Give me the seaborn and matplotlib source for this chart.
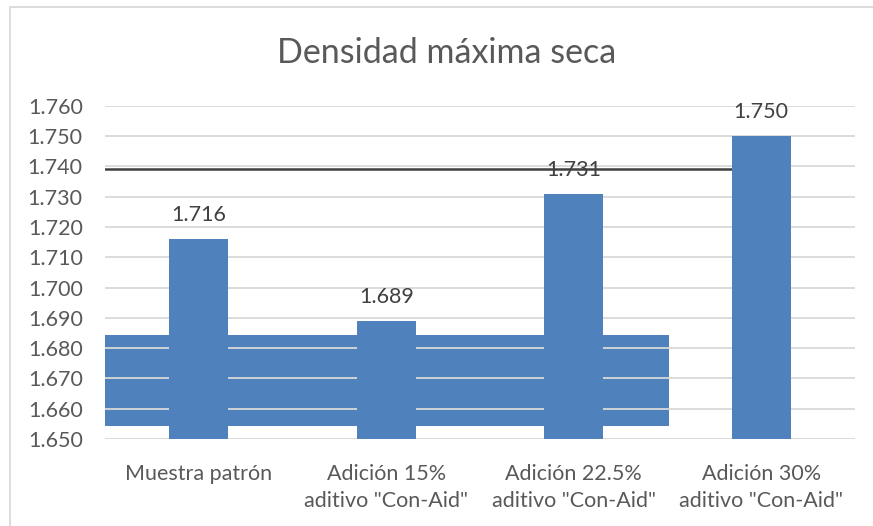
# Gráfico de barras: densidad máxima seca por tipo de mezcla

import matplotlib.pyplot as plt
import seaborn as sns
import numpy as np
from matplotlib.lines import Line2D
from matplotlib.patches import Rectangle

# Datos
categorias = ["Muestra patrón",
              "Adición 15%\naditivo \"Con-Aid\"",
              "Adición 22.5%\naditivo \"Con-Aid\"",
              "Adición 30%\naditivo \"Con-Aid\""]
valores = [1.716, 1.689, 1.731, 1.750]
etiquetas = ["1.716", "1.689", "1.731", "1.750"]
ticks_y = [1.650, 1.660, 1.670, 1.680, 1.690, 1.700, 1.710, 1.720, 1.730, 1.740, 1.750, 1.760]

# franja azul y línea negra superpuestas en la imagen original
franja_y = (1.6543, 1.6843)
franja_x = (-0.5, 2.51)
linea_negra_y = 1.7392

azul = "#4F81BD"
gris_texto = "#595959"
tam = 15.5

sns.set_theme(style="white")
plt.rcParams["font.family"] = ["Lato", "DejaVu Sans"]

fig = plt.figure(figsize=(8.73, 5.26), dpi=100)
ax = fig.add_axes([105 / 873, 1 - 439 / 526, 750 / 873, (439 - 105.7) / 526])

sns.barplot(x=categorias, y=valores, color=azul, saturation=1, width=0.315,
            linewidth=0, edgecolor=azul, ax=ax, zorder=2)

ax.set_ylim(ticks_y[0], ticks_y[-1])
ax.set_xlim(-0.5, len(categorias) - 0.5)
ax.set_yticks(ticks_y)
ax.set_yticklabels([f"{t:.3f}" for t in ticks_y])
ax.set_axisbelow(True)
ax.yaxis.grid(True, color="#d9d9d9", linewidth=1.3)
ax.xaxis.grid(False)
for s in ax.spines.values():
    s.set_visible(False)
ax.tick_params(axis="y", length=0, pad=16, labelsize=tam, labelcolor=gris_texto)
ax.tick_params(axis="x", length=0, pad=18, labelsize=tam, labelcolor=gris_texto)
for lbl in ax.get_xticklabels():
    lbl.set_linespacing(1.45)
ax.set_xlabel("")
ax.set_ylabel("")

# franja azul horizontal (debajo de la cuadrícula)
ax.add_patch(Rectangle((franja_x[0], franja_y[0]), franja_x[1] - franja_x[0],
                       franja_y[1] - franja_y[0], color=azul, zorder=0.2, lw=0))
# línea negra horizontal (detrás de la última barra)
ax.plot([-0.5, 3.0], [linea_negra_y, linea_negra_y], color="#404040", lw=1.8, zorder=1.5)

# etiquetas de datos
for i, (v, t) in enumerate(zip(valores, etiquetas)):
    ax.annotate(t, (i, v), xytext=(0, 13), textcoords="offset points",
                ha="center", va="baseline", fontsize=tam, color="#404040", zorder=1)

fig.text(447 / 873, 1 - 53 / 526, "Densidad máxima seca", ha="center", va="center",
         fontsize=24.5, color=gris_texto)

# borde del área del gráfico
fig.add_artist(Line2D([9.5 / 873, 1.0], [1 - 6.5 / 526, 1 - 6.5 / 526],
                      color="#d9d9d9", lw=1.3, transform=fig.transFigure))
fig.add_artist(Line2D([9.5 / 873, 9.5 / 873], [0.0, 1 - 6.5 / 526],
                      color="#d9d9d9", lw=1.3, transform=fig.transFigure))

plt.savefig("out.png", dpi=100)
plt.close()
